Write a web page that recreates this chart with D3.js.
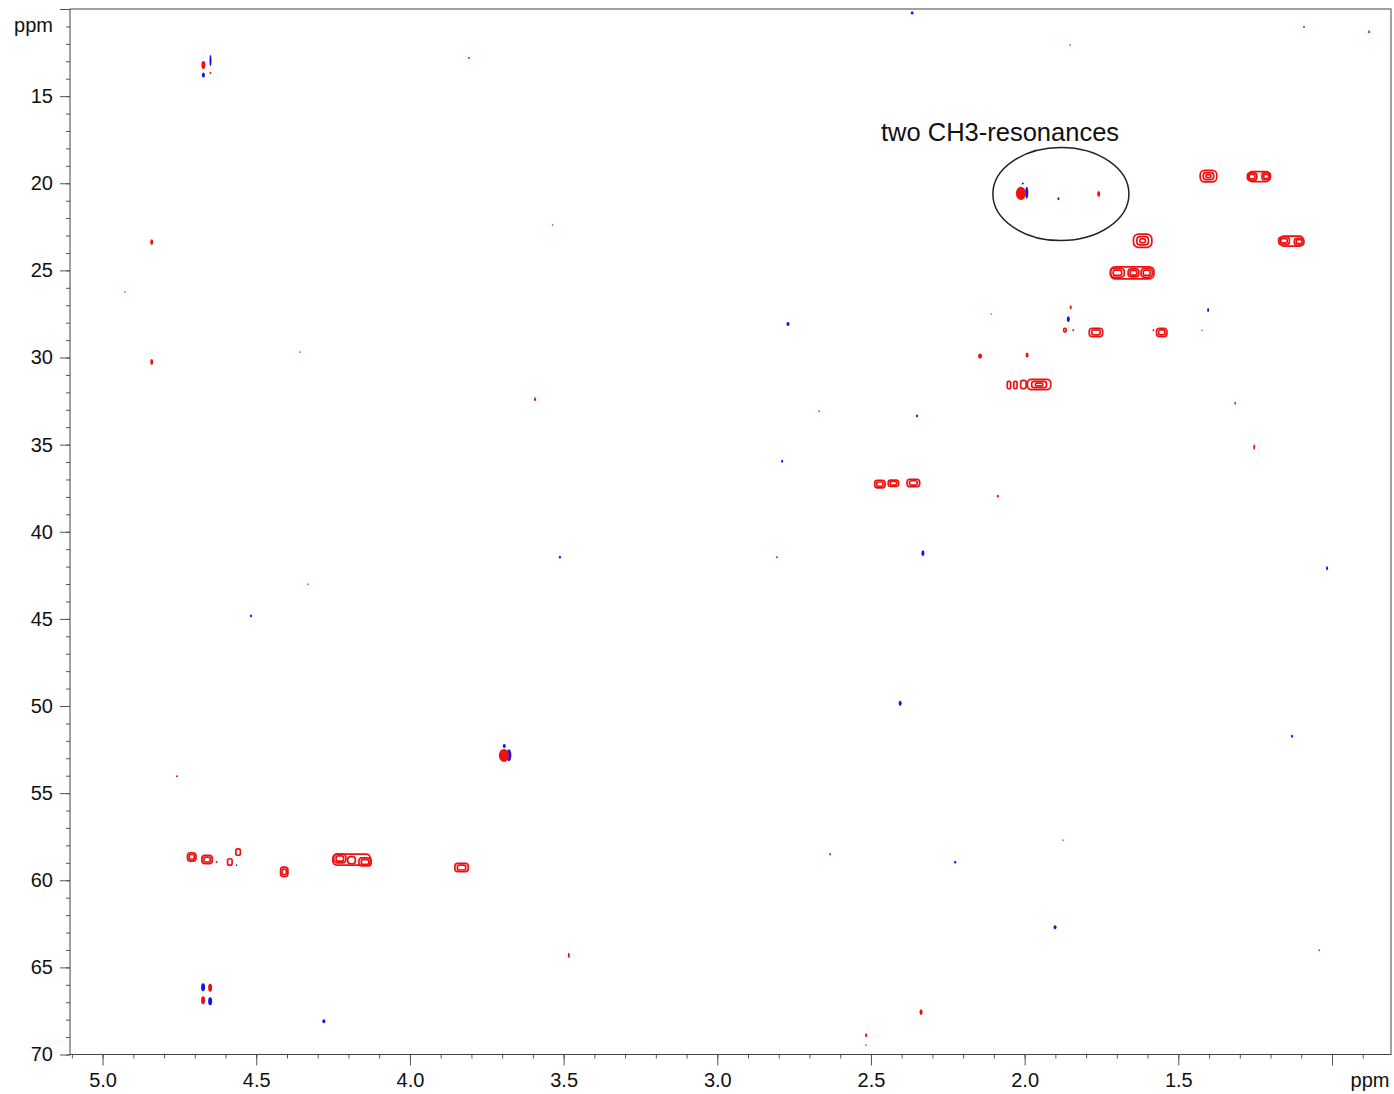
<!DOCTYPE html>
<html>
<head>
<meta charset="utf-8">
<script src="https://cdn.jsdelivr.net/npm/d3@7/dist/d3.min.js"></script>
<style>
  html, body { margin: 0; padding: 0; background: #fff; }
  svg { display: block; font-family: "Liberation Sans", Arial, Helvetica, sans-serif; }
</style>
</head>
<body>
<svg id="hsqc" width="1394" height="1094"></svg>
<script>
// 1H-13C HSQC spectrum: 1H shift on x, 13C shift on y (both in ppm).

// Axis ranges (ppm)
const protonRange = [5.106, 0.808];
const carbonRange = [10, 70];

// Labelled tick values
const protonMajorTicks = [5.0, 4.5, 4.0, 3.5, 3.0, 2.5, 2.0, 1.5, 1.0];
const carbonMajorTicks = [10, 15, 20, 25, 30, 35, 40, 45, 50, 55, 60, 65, 70];

// Cross peaks drawn as contour rings: [1H, 13C, 1H width, 13C width, levels]
const contourPeaks = [
  [1.402, 19.59, 0.059, 0.75, 3],
  [1.237, 19.62, 0.075, 0.66, 1],
  [1.260, 19.62, 0.036, 0.52, 2],
  [1.214, 19.60, 0.033, 0.48, 2],
  [1.616, 23.30, 0.065, 0.86, 3],
  [1.131, 23.32, 0.081, 0.66, 1],
  [1.156, 23.30, 0.040, 0.52, 2],
  [1.107, 23.35, 0.036, 0.48, 2],
  [1.650, 25.14, 0.147, 0.78, 1],
  [1.698, 25.14, 0.050, 0.60, 2],
  [1.646, 25.14, 0.040, 0.55, 2],
  [1.603, 25.14, 0.042, 0.60, 2],
  [1.768, 28.56, 0.049, 0.57, 2],
  [1.554, 28.56, 0.039, 0.57, 2],
  [1.869, 28.43, 0.013, 0.29, 1],
  [2.051, 31.58, 0.016, 0.52, 1],
  [2.030, 31.58, 0.016, 0.52, 1],
  [2.004, 31.55, 0.023, 0.57, 1],
  [1.953, 31.55, 0.081, 0.69, 3],
  [2.471, 37.27, 0.039, 0.52, 2],
  [2.427, 37.22, 0.039, 0.46, 2],
  [2.362, 37.20, 0.046, 0.52, 2],
  [4.710, 58.66, 0.033, 0.57, 2],
  [4.660, 58.81, 0.039, 0.57, 2],
  [4.586, 58.95, 0.020, 0.46, 1],
  [4.559, 58.38, 0.020, 0.46, 1],
  [4.409, 59.52, 0.029, 0.63, 2],
  [4.190, 58.82, 0.127, 0.72, 1],
  [4.228, 58.75, 0.045, 0.60, 2],
  [4.190, 58.85, 0.030, 0.50, 1],
  [4.146, 58.95, 0.045, 0.55, 2],
  [3.832, 59.27, 0.049, 0.57, 2]
];

// Small positive (red) signals: [1H, 13C, 1H width, 13C width]
const positiveSignals = [
  [4.672, 13.21, 0.013, 0.46],
  [4.649, 13.67, 0.0065, 0.11],
  [3.808, 12.81, 0.0065, 0.11],
  [1.091, 11.03, 0.0065, 0.11],
  [0.879, 11.32, 0.0065, 0.17],
  [1.852, 12.07, 0.0040, 0.11],
  [4.840, 23.38, 0.0098, 0.34],
  [4.927, 26.25, 0.0040, 0.11],
  [4.840, 30.26, 0.0098, 0.34],
  [3.535, 22.40, 0.0040, 0.11],
  [3.593, 32.39, 0.0065, 0.23],
  [2.087, 37.96, 0.0065, 0.17],
  [4.332, 43.01, 0.0040, 0.11],
  [2.806, 41.46, 0.0065, 0.11],
  [1.253, 35.14, 0.0065, 0.29],
  [4.758, 54.03, 0.0065, 0.11],
  [3.694, 52.84, 0.033, 0.75],
  [1.875, 57.70, 0.0040, 0.11],
  [3.483, 64.31, 0.0065, 0.29],
  [2.337, 67.58, 0.0098, 0.34],
  [2.516, 68.90, 0.0065, 0.23],
  [2.516, 69.47, 0.0040, 0.11],
  [4.650, 66.17, 0.013, 0.46],
  [4.673, 66.89, 0.013, 0.46],
  [2.012, 20.58, 0.033, 0.75],
  [1.759, 20.62, 0.0098, 0.34],
  [2.145, 29.92, 0.013, 0.29],
  [1.992, 29.86, 0.0098, 0.29],
  [2.109, 27.51, 0.0040, 0.11],
  [1.423, 28.43, 0.0040, 0.11],
  [1.850, 27.12, 0.0065, 0.23],
  [1.842, 28.43, 0.0065, 0.11],
  [1.581, 28.43, 0.0065, 0.11],
  [4.629, 58.95, 0.0065, 0.11]
];

// Negative (blue) signals: [1H, 13C, 1H width, 13C width]
const negativeSignals = [
  [4.649, 12.95, 0.0065, 0.63],
  [4.672, 13.79, 0.0098, 0.29],
  [2.366, 10.23, 0.0098, 0.17],
  [4.358, 29.69, 0.0040, 0.11],
  [2.770, 28.08, 0.0098, 0.23],
  [2.669, 33.08, 0.0040, 0.11],
  [2.350, 33.36, 0.0065, 0.17],
  [2.789, 35.95, 0.0065, 0.17],
  [4.517, 44.84, 0.0065, 0.17],
  [3.512, 41.46, 0.0065, 0.17],
  [2.331, 41.23, 0.0098, 0.34],
  [1.016, 42.09, 0.0065, 0.23],
  [1.315, 32.62, 0.0040, 0.17],
  [2.405, 49.84, 0.0098, 0.29],
  [1.130, 51.73, 0.0065, 0.17],
  [3.678, 52.82, 0.016, 0.69],
  [3.693, 52.30, 0.0098, 0.23],
  [2.633, 58.51, 0.0040, 0.17],
  [2.226, 58.97, 0.0065, 0.17],
  [1.901, 62.70, 0.0098, 0.23],
  [1.042, 64.02, 0.0040, 0.11],
  [4.280, 68.09, 0.0098, 0.23],
  [4.673, 66.14, 0.013, 0.46],
  [4.650, 66.95, 0.013, 0.46],
  [1.993, 20.55, 0.0098, 0.69],
  [2.006, 20.01, 0.0065, 0.11],
  [1.890, 20.89, 0.0065, 0.17],
  [1.403, 27.28, 0.0065, 0.23],
  [1.858, 27.80, 0.0098, 0.34],
  [4.564, 59.14, 0.0040, 0.11]
];

// Annotation: ellipse around the two methyl resonances, with its caption
const annotationText = "two CH3-resonances";
const annotationTextAt = [2.080, 17.55];
const annotationEllipse = [1.882, 20.62, 0.2213, 2.67]; // centre 1H, centre 13C, 1H radius, 13C radius

const plot = { left: 70, right: 1391, top: 9, bottom: 1054.5 };

const svg = d3.select("#hsqc");

const x = d3.scaleLinear().domain(protonRange).range([plot.left, plot.right]);
const y = d3.scaleLinear().domain(carbonRange).range([plot.top, plot.bottom]);

const POS = "#ee1111";
const NEG = "#1414e6";

svg.append("defs").append("clipPath").attr("id", "plotclip")
  .append("rect")
  .attr("x", plot.left).attr("y", plot.top)
  .attr("width", plot.right - plot.left).attr("height", plot.bottom - plot.top);

const area = svg.append("g").attr("clip-path", "url(#plotclip)");

// half-widths in pixels from ppm widths, through the scales
const rx = d => Math.abs(x(d[0] + d[2] / 2) - x(d[0]));
const ry = d => Math.abs(y(d[1] + d[3] / 2) - y(d[1]));

// negative phase first, positive signals on top
area.append("g").selectAll("ellipse").data(negativeSignals).join("ellipse")
  .attr("cx", d => x(d[0])).attr("cy", d => y(d[1]))
  .attr("rx", d => Math.max(rx(d), 0.6)).attr("ry", d => Math.max(ry(d), 0.8))
  .attr("fill", NEG);

area.append("g").selectAll("ellipse").data(positiveSignals).join("ellipse")
  .attr("cx", d => x(d[0])).attr("cy", d => y(d[1]))
  .attr("rx", d => Math.max(rx(d), 0.6)).attr("ry", d => Math.max(ry(d), 0.8))
  .attr("fill", POS);

// contour rings: nested rounded levels shrinking toward the peak maximum
const levelScale = [1, 0.66, 0.36];
const rings = contourPeaks.flatMap(d => d3.range(d[4]).map(k => {
  const hw = Math.max(rx(d) * levelScale[k] - 0.8, 0.8);
  const hh = Math.max(ry(d) * levelScale[k] - 0.8, 0.8);
  return { cx: x(d[0]), cy: y(d[1]), hw, hh };
}));
area.append("g").selectAll("rect").data(rings).join("rect")
  .attr("x", r => r.cx - r.hw).attr("y", r => r.cy - r.hh)
  .attr("width", r => 2 * r.hw).attr("height", r => 2 * r.hh)
  .attr("rx", r => 0.75 * Math.min(r.hw, r.hh))
  .attr("fill", "none").attr("stroke", POS).attr("stroke-width", 1.7);

// annotation
svg.append("ellipse")
  .attr("cx", x(annotationEllipse[0])).attr("cy", y(annotationEllipse[1]))
  .attr("rx", Math.abs(x(annotationEllipse[0] + annotationEllipse[2]) - x(annotationEllipse[0])))
  .attr("ry", Math.abs(y(annotationEllipse[1] + annotationEllipse[3]) - y(annotationEllipse[1])))
  .attr("fill", "none").attr("stroke", "#222").attr("stroke-width", 1.5);

svg.append("text")
  .attr("x", x(annotationTextAt[0])).attr("y", y(annotationTextAt[1]))
  .attr("text-anchor", "middle")
  .attr("font-size", 25.5).attr("fill", "#111")
  .text(annotationText);

// axes
const fmtP = d3.format(".1f");
const xMinor = d3.range(9, 52).map(v => v / 10);
const yMinor = d3.range(10, 71);

const axisColor = "#555";

const gx = svg.append("g").attr("transform", `translate(0,${plot.bottom})`);
gx.call(d3.axisBottom(x).tickValues(xMinor).tickSize(4).tickFormat(""));
gx.append("g").call(d3.axisBottom(x).tickValues(protonMajorTicks).tickSize(11).tickPadding(7)
  .tickFormat(v => v === 1.0 ? "" : fmtP(v)));

const gy = svg.append("g").attr("transform", `translate(${plot.left},0)`);
gy.call(d3.axisLeft(y).tickValues(yMinor).tickSize(4).tickFormat(""));
gy.append("g").call(d3.axisLeft(y).tickValues(carbonMajorTicks).tickSize(10).tickPadding(7)
  .tickFormat(v => v === 10 ? "" : v));

svg.selectAll(".domain").remove();
svg.selectAll(".tick line").attr("stroke", axisColor);
svg.selectAll(".tick text").attr("font-size", 20).attr("fill", "#111")
  .attr("font-family", "'Liberation Sans', Arial, sans-serif");

// frame
svg.append("rect")
  .attr("x", plot.left).attr("y", plot.top)
  .attr("width", plot.right - plot.left).attr("height", plot.bottom - plot.top)
  .attr("fill", "none").attr("stroke", "#444").attr("stroke-width", 1);

// unit labels
svg.append("text").attr("x", 53).attr("y", y(10.9)).attr("dy", "0.35em")
  .attr("text-anchor", "end").attr("font-size", 20).attr("fill", "#111").text("ppm");
svg.append("text").attr("x", 1370).attr("y", plot.bottom + 11 + 7).attr("dy", "0.71em")
  .attr("text-anchor", "middle").attr("font-size", 20).attr("fill", "#111").text("ppm");
</script>
</body>
</html>
